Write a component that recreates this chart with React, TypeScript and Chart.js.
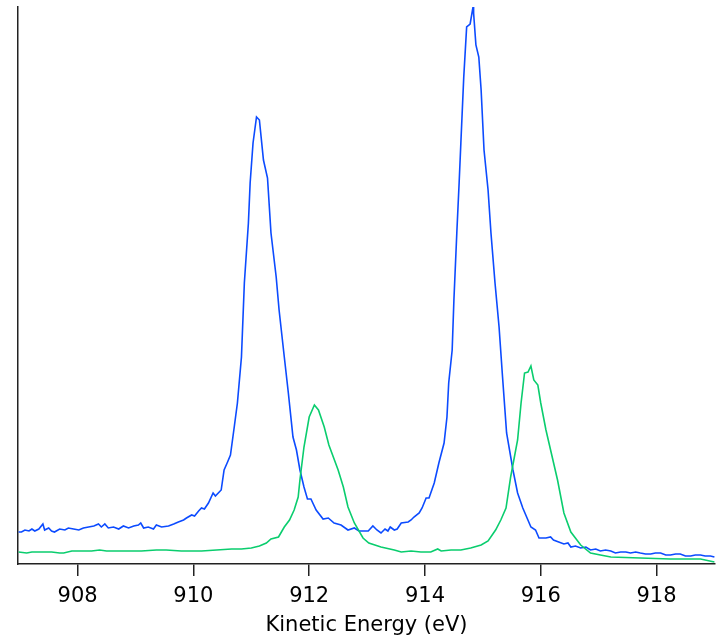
import React, { useEffect, useRef } from "react";
import { Chart, registerables } from "chart.js";

Chart.register(...registerables);

// Kinetic energy (eV) and intensity (arb. units) for the blue spectrum
const blueEnergy = [
  906.98, 907.03, 907.09, 907.16, 907.21, 907.26, 907.33, 907.4, 907.43, 907.5, 907.55, 907.6, 907.69, 907.78,
  907.84, 907.93, 908.02, 908.1, 908.19, 908.28, 908.36, 908.41, 908.47, 908.53, 908.62, 908.71, 908.79,
  908.88, 908.97, 909.05, 909.09, 909.14, 909.22, 909.31, 909.36, 909.45, 909.57, 909.66, 909.74, 909.83,
  909.88, 909.97, 910.02, 910.09, 910.14, 910.19, 910.26, 910.34, 910.38, 910.48, 910.53, 910.59, 910.64,
  910.71, 910.76, 910.83, 910.88, 910.95, 910.98, 911.03, 911.09, 911.14, 911.21, 911.28, 911.34, 911.43,
  911.48, 911.57, 911.64, 911.72, 911.78, 911.84, 911.91, 911.97, 912.03, 912.12, 912.24, 912.33, 912.43,
  912.55, 912.67, 912.78, 912.86, 913.02, 913.1, 913.17, 913.24, 913.31, 913.36, 913.4, 913.47, 913.52,
  913.59, 913.71, 913.76, 913.81, 913.9, 913.95, 914.02, 914.07, 914.16, 914.24, 914.33, 914.38, 914.41,
  914.47, 914.5, 914.55, 914.59, 914.62, 914.67, 914.72, 914.78, 914.83, 914.84, 914.88, 914.93, 914.97,
  915.02, 915.09, 915.14, 915.21, 915.28, 915.34, 915.41, 915.52, 915.6, 915.69, 915.83, 915.91, 915.97,
  916.09, 916.17, 916.22, 916.31, 916.4, 916.47, 916.52, 916.6, 916.69, 916.78, 916.86, 916.95, 917.03,
  917.12, 917.21, 917.29, 917.38, 917.47, 917.55, 917.64, 917.72, 917.81, 917.9, 917.98, 918.07, 918.16,
  918.24, 918.33, 918.41, 918.5, 918.59, 918.67, 918.76, 918.84, 918.93, 919.0,
];
const blueIntensity = [
  32, 32, 34, 33, 35, 33, 35, 40, 34, 36, 33, 32, 35, 34,
  36, 35, 34, 36, 37, 38, 40, 37, 40, 36, 37, 35, 38,
  36, 38, 39, 41, 36, 37, 35, 39, 37, 38, 40, 42, 44,
  46, 49, 48, 53, 56, 55, 61, 71, 68, 74, 94, 102, 109,
  139, 161, 207, 281, 341, 381, 421, 447, 444, 404, 386, 331, 287,
  254, 207, 171, 127, 114, 94, 77, 65, 65, 54, 45, 46, 41,
  39, 34, 36, 33, 33, 38, 34, 31, 35, 33, 37, 34, 35,
  41, 42, 44, 47, 51, 56, 66, 66, 81, 101, 121, 147, 181,
  214, 264, 331, 381, 421, 487, 537, 540, 557, 551, 519, 507, 474,
  414, 374, 331, 281, 237, 187, 131, 94, 71, 56, 37, 34, 26,
  26, 27, 24, 22, 20, 21, 17, 18, 16, 17, 14, 15, 13,
  14, 13, 11, 12, 12, 11, 12, 11, 10, 10, 11, 11, 9,
  9, 10, 10, 8, 8, 9, 9, 8, 8, 7,
];

// Kinetic energy (eV) and intensity (arb. units) for the green spectrum
const greenEnergy = [
  906.98, 907.12, 907.21, 907.38, 907.55, 907.69, 907.76, 907.9, 908.07, 908.24, 908.38, 908.5, 908.76,
  909.1, 909.36, 909.53, 909.79, 910.14, 910.4, 910.66, 910.83, 911.0, 911.14, 911.26, 911.34, 911.47,
  911.52, 911.57, 911.66, 911.74, 911.81, 911.84, 911.91, 912.0, 912.09, 912.16, 912.26, 912.34, 912.5,
  912.59, 912.67, 912.78, 912.93, 913.03, 913.24, 913.47, 913.59, 913.76, 913.93, 914.1, 914.22, 914.28,
  914.45, 914.62, 914.79, 914.97, 915.09, 915.22, 915.31, 915.4, 915.48, 915.6, 915.66, 915.72, 915.78,
  915.83, 915.88, 915.95, 916.0, 916.09, 916.17, 916.29, 916.4, 916.52, 916.69, 916.86, 917.03, 917.21,
  917.72, 918.24, 918.76, 919.0,
];
const greenIntensity = [
  12, 11, 12, 12, 12, 11, 11, 13, 13, 13, 14, 13, 13,
  13, 14, 14, 13, 13, 14, 15, 15, 16, 18, 21, 25, 27,
  32, 37, 44, 54, 67, 84, 117, 147, 159, 154, 137, 119, 94,
  77, 57, 41, 26, 21, 17, 14, 12, 13, 12, 12, 15, 13,
  14, 14, 16, 19, 23, 34, 44, 56, 87, 124, 161, 191, 192,
  198, 184, 179, 161, 134, 114, 84, 51, 32, 19, 11, 9, 7,
  6, 5, 5, 2,
];

const xTicks = [908, 910, 912, 914, 916, 918];
const xTitle = "Kinetic Energy (eV)";

const toPoints = (xs: number[], ys: number[]) => xs.map((x, i) => ({ x, y: ys[i] }));

export default function App() {
  const canvasRef = useRef<HTMLCanvasElement | null>(null);

  useEffect(() => {
    const canvas = canvasRef.current;
    if (!canvas) return;
    const axisColor = "#222222";
    const font = { family: "'DejaVu Sans', sans-serif", size: 21 };
    const chart = new Chart(canvas, {
      type: "line",
      data: {
        datasets: [
          {
            data: toPoints(greenEnergy, greenIntensity),
            borderColor: "rgb(10, 205, 110)",
            borderWidth: 1.6,
            pointRadius: 0,
            tension: 0,
          },
          {
            data: toPoints(blueEnergy, blueIntensity),
            borderColor: "rgb(12, 75, 255)",
            borderWidth: 1.6,
            pointRadius: 0,
            tension: 0,
          },
        ],
      },
      options: {
        animation: false,
        responsive: false,
        devicePixelRatio: 1,
        layout: { padding: { left: 18, top: 7, right: 6, bottom: 0 } },
        plugins: { legend: { display: false }, tooltip: { enabled: false } },
        scales: {
          x: {
            type: "linear",
            min: 906.97,
            max: 919.01,
            afterBuildTicks: (s: any) => {
              s.ticks = xTicks.map((v) => ({ value: v }));
            },
            afterFit: (s: any) => {
              s.height = 76;
            },
            border: { display: true, color: axisColor, width: 1.5 },
            grid: {
              drawOnChartArea: false,
              drawTicks: true,
              tickLength: 12,
              color: axisColor,
              lineWidth: 1.5,
            },
            ticks: {
              color: "#000",
              font,
              padding: 8,
              maxRotation: 0,
              callback: (v: any) => String(v),
            },
            title: {
              display: true,
              text: xTitle,
              color: "#000",
              font,
              padding: { top: 0, bottom: 2 },
            },
          },
          y: {
            type: "linear",
            min: 0,
            max: 557,
            afterFit: (s: any) => {
              s.width = 0;
            },
            border: { display: true, color: axisColor, width: 1.5 },
            grid: { display: false },
            ticks: { display: false },
          },
        },
      },
    });
    return () => chart.destroy();
  }, []);

  return (
    <div style={{ position: "fixed", left: 0, top: 0, width: 721, height: 640, background: "#fff" }}>
      <canvas ref={canvasRef} width={721} height={640} />
    </div>
  );
}
